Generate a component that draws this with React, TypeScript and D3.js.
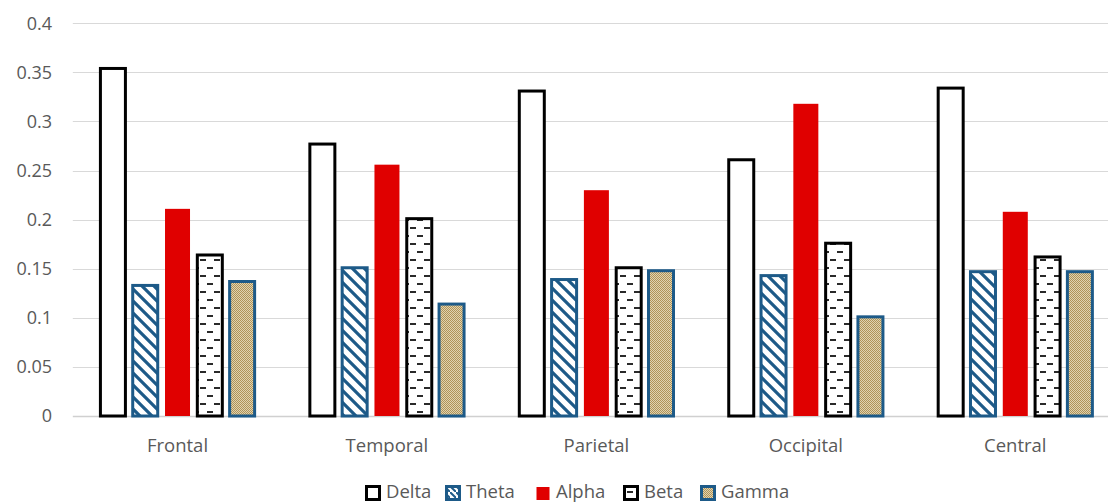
import React from "react";
import * as d3 from "d3";

const categories = ["Frontal", "Temporal", "Parietal", "Occipital", "Central"];
const seriesNames = ["Delta", "Theta", "Alpha", "Beta", "Gamma"];
const delta = [0.354, 0.277, 0.331, 0.261, 0.334];
const theta = [0.133, 0.151, 0.139, 0.143, 0.147];
const alpha = [0.211, 0.256, 0.23, 0.318, 0.208];
const beta = [0.164, 0.201, 0.151, 0.176, 0.162];
const gamma = [0.137, 0.114, 0.148, 0.101, 0.147];
const yTicks = [0, 0.05, 0.1, 0.15, 0.2, 0.25, 0.3, 0.35, 0.4];
const yTickLabels = ["0", "0.05", "0.1", "0.15", "0.2", "0.25", "0.3", "0.35", "0.4"];

const seriesValues = [delta, theta, alpha, beta, gamma];

const BLUE = "#1d5a88";
const styles: Record<string, { fill: string; stroke: string; sw: number }> = {
  Delta: { fill: "#ffffff", stroke: "#000000", sw: 3 },
  Theta: { fill: "url(#pTheta)", stroke: BLUE, sw: 3 },
  Alpha: { fill: "#e00000", stroke: "none", sw: 0 },
  Beta: { fill: "url(#pBeta)", stroke: "#000000", sw: 3 },
  Gamma: { fill: "url(#pGamma)", stroke: BLUE, sw: 3 },
};

const W = 1108;
const H = 503;
const FONT = "'Open Sans', 'Noto Sans', sans-serif";
const TXT = "#595959";

export default function App() {
  const x0 = d3.scaleBand<string>().domain(categories).range([72.8, 1120]).padding(0);
  const x1 = d3
    .scaleBand<string>()
    .domain(seriesNames)
    .range([-80.75, 80.75])
    .paddingInner(0.226)
    .paddingOuter(0.113);
  const y = d3.scaleLinear().domain([0, 0.4]).range([416, 23.3]);

  // legend layout (estimated text widths)
  const legendWidths = [46, 56, 54, 43, 62];
  const sq = 16;
  const gapText = 5;
  const gapItem = 13;
  let lx = 365;
  const legendItems = seriesNames.map((s, i) => {
    const item = { s, x: lx };
    lx += sq + gapText + legendWidths[i] + gapItem;
    return item;
  });

  return (
    <svg
      width={W}
      height={H}
      style={{ position: "absolute", left: 0, top: 0, display: "block" }}
      fontFamily={FONT}
    >
      <defs>
        <pattern id="pTheta" patternUnits="userSpaceOnUse" width="12" height="12">
          <rect width="12" height="12" fill="#ffffff" />
          <path d="M-3,-3 L15,15 M-3,9 L3,15 M9,-3 L15,3" stroke={BLUE} strokeWidth="3.2" />
        </pattern>
        <pattern id="pBeta" patternUnits="userSpaceOnUse" width="14" height="16">
          <rect width="14" height="16" fill="#ffffff" />
          <rect x="4" y="3" width="6" height="2" fill="#2a2a2a" />
          <rect x="11" y="11" width="6" height="2" fill="#2a2a2a" />
          <rect x="-3" y="11" width="6" height="2" fill="#2a2a2a" />
        </pattern>
        <pattern id="pGamma" patternUnits="userSpaceOnUse" width="2" height="2">
          <rect width="2" height="2" fill="#e0d3b0" />
          <rect x="0" y="0" width="1" height="1" fill="#af9358" />
          <rect x="1" y="1" width="1" height="1" fill="#af9358" />
        </pattern>
        <pattern id="pThetaL" patternUnits="userSpaceOnUse" width="6" height="6">
          <rect width="6" height="6" fill="#ffffff" />
          <path d="M-2,-2 L8,8" stroke={BLUE} strokeWidth="2" />
        </pattern>
      </defs>

      {/* gridlines */}
      {yTicks.map((t, i) => (
        <line
          key={i}
          x1={72.8}
          x2={W}
          y1={Math.round(y(t)) + 0.5}
          y2={Math.round(y(t)) + 0.5}
          stroke={i === 0 ? "#d0d0d0" : "#d9d9d9"}
          strokeWidth={i === 0 ? 1.5 : 1}
        />
      ))}

      {/* y tick labels */}
      {yTicks.map((t, i) => (
        <text
          key={i}
          x={52}
          y={y(t)}
          dy="0.35em"
          textAnchor="end"
          fontSize={18}
          fill={TXT}
        >
          {yTickLabels[i]}
        </text>
      ))}

      {/* bars */}
      {categories.map((c, ci) => {
        const cx = (x0(c) as number) + x0.bandwidth() / 2;
        return (
          <g key={c}>
            {seriesNames.map((s, si) => {
              const v = seriesValues[si][ci];
              const st = styles[s];
              const bx = cx + (x1(s) as number);
              return (
                <rect
                  key={s}
                  x={bx}
                  y={y(v)}
                  width={x1.bandwidth()}
                  height={y(0) - y(v)}
                  fill={st.fill}
                  stroke={st.stroke}
                  strokeWidth={st.sw}
                />
              );
            })}
            <text
              x={cx}
              y={452}
              textAnchor="middle"
              fontSize={18.5}
              fill={TXT}
            >
              {c}
            </text>
          </g>
        );
      })}

      {/* legend */}
      {legendItems.map(({ s, x }) => {
        const st = styles[s];
        const leg = s === "Theta" ? "url(#pThetaL)" : st.fill;
        return (
          <g key={s}>
            {st.sw > 0 ? (
              <rect
                x={x + 1.5}
                y={486.5}
                width={sq - 3}
                height={sq - 3}
                fill={leg}
                stroke={st.stroke}
                strokeWidth={3}
              />
            ) : (
              <rect x={x + 1.5} y={487} width={sq - 3} height={sq - 3} fill={st.fill} />
            )}
            <text x={x + sq + gapText} y={498} fontSize={18.5} fill={TXT}>
              {s}
            </text>
          </g>
        );
      })}
    </svg>
  );
}
